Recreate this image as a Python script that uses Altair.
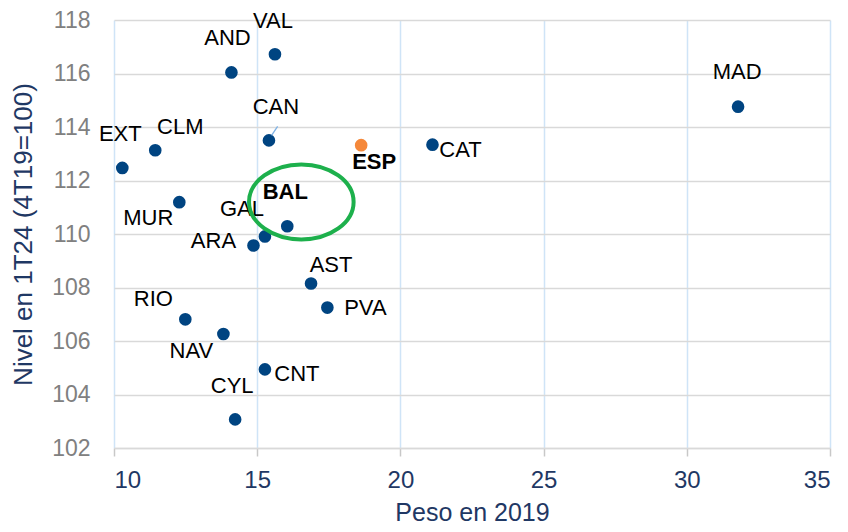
import altair as alt
import pandas as pd

# ---- data ----
regions = ["VAL", "AND", "CAN", "EXT", "CLM", "ESP", "MUR", "BAL", "GAL",
           "ARA", "AST", "PVA", "RIO", "NAV", "CNT", "CYL", "CAT", "MAD"]
peso = [15.62, 14.10, 15.41, 10.29, 11.44, 18.63, 12.28, 16.05, 15.27,
        14.87, 16.88, 17.45, 12.49, 13.82, 15.27, 14.23, 21.12, 31.79]
nivel = [116.72, 116.04, 113.50, 112.47, 113.13, 113.32, 111.19, 110.29, 109.91,
         109.57, 108.15, 107.25, 106.81, 106.26, 104.94, 103.07, 113.34, 114.76]
bold_labels = ["ESP", "BAL"]

# highlight ellipse around BAL (annotation centre, data units)
ellipse_x = [16.54]
ellipse_y = [111.2]

x_ticks = [10, 15, 20, 25, 30, 35]
y_ticks = [102, 104, 106, 108, 110, 112, 114, 116, 118]

# label pixel offsets (style only)
label_offsets = {
    "VAL": (-2, -33), "AND": (-4, -34), "CAN": (7, -33), "EXT": (-2, -34),
    "CLM": (25, -23), "ESP": (13, 17), "MUR": (-31, 16), "BAL": (-2, -34),
    "GAL": (-23, -27), "ARA": (-40, -5), "AST": (20, -18), "PVA": (38, 0),
    "RIO": (-32, -20), "NAV": (-32, 17), "CNT": (32, 5), "CYL": (-3, -33),
    "CAT": (28, 5), "MAD": (-1, -35),
}

df = pd.DataFrame({"region": regions, "peso": peso, "nivel": nivel})
ell = pd.DataFrame({"ex": ellipse_x, "ey": ellipse_y})

FONT = "Liberation Sans"
NAVY = "#004481"
ORANGE = "#F5883A"
GREEN = "#1DB04C"

xscale = alt.Scale(domain=[10, 35], nice=False, zero=False)
yscale = alt.Scale(domain=[102, 118], nice=False, zero=False)

xenc = alt.X("peso:Q", scale=xscale, axis=alt.Axis(
    title="Peso en 2019", values=x_ticks, grid=True, gridColor="#CFE4F7",
    gridWidth=1.5, domain=True, domainColor="#D9D9D9", domainWidth=1.5,
    ticks=True, tickColor="#C8C8C8", tickSize=8, tickWidth=1.5,
    labelFont=FONT, labelFontSize=24, labelColor="#1F3864", labelPadding=12,
    titleFont=FONT, titleFontSize=25, titleColor="#1F3864", titleFontWeight="normal",
    titleY=72, titleBaseline="alphabetic"))
yenc = alt.Y("nivel:Q", scale=yscale, axis=alt.Axis(
    title="Nivel en 1T24  (4T19=100)", values=y_ticks, grid=True,
    gridColor="#D9D9D9", gridWidth=1.5, domain=False, ticks=False,
    labelFont=FONT, labelFontSize=23, labelColor="#808080", labelPadding=24,
    titleFont=FONT, titleFontSize=26, titleColor="#1F3864", titleFontWeight="normal",
    titleX=-91, titleBaseline="middle"))

base = alt.Chart(df)

points = base.mark_circle(size=160, opacity=1).encode(
    x=xenc, y=yenc,
    color=alt.condition(alt.datum.region == "ESP", alt.value(ORANGE), alt.value(NAVY)),
)

leader = base.transform_filter(alt.datum.region == "CAN").mark_point(
    shape="M 0.19 -0.36 L 0.62 -1", size=784, filled=False,
    stroke="#7FB2E5", strokeWidth=1.3, opacity=1).encode(x="peso:Q", y="nivel:Q")

labels = []
for r in regions:
    dx, dy = label_offsets[r]
    labels.append(
        base.transform_filter(alt.datum.region == r).mark_text(
            dx=dx, dy=dy, align="center", baseline="middle", font=FONT,
            fontSize=22, color="#000000",
            fontWeight="bold" if r in bold_labels else "normal",
        ).encode(x="peso:Q", y="nivel:Q", text="region:N")
    )

ellipse = alt.Chart(ell).mark_point(
    shape="M -1 0 A 1 0.717 0 1 0 1 0 A 1 0.717 0 1 0 -1 0 Z",
    size=10941, filled=False, stroke=GREEN, strokeWidth=4, opacity=1,
).encode(x=alt.X("ex:Q", scale=xscale), y=alt.Y("ey:Q", scale=yscale))

chart = alt.layer(points, leader, *labels, ellipse).properties(
    width=716, height=428,
    autosize=alt.AutoSizeParams(type="none"),
    padding={"left": 106, "top": 12, "right": 10, "bottom": 76},
).configure_view(stroke=None)

chart.save("out.html", embed_options={"renderer": "svg", "actions": False})
